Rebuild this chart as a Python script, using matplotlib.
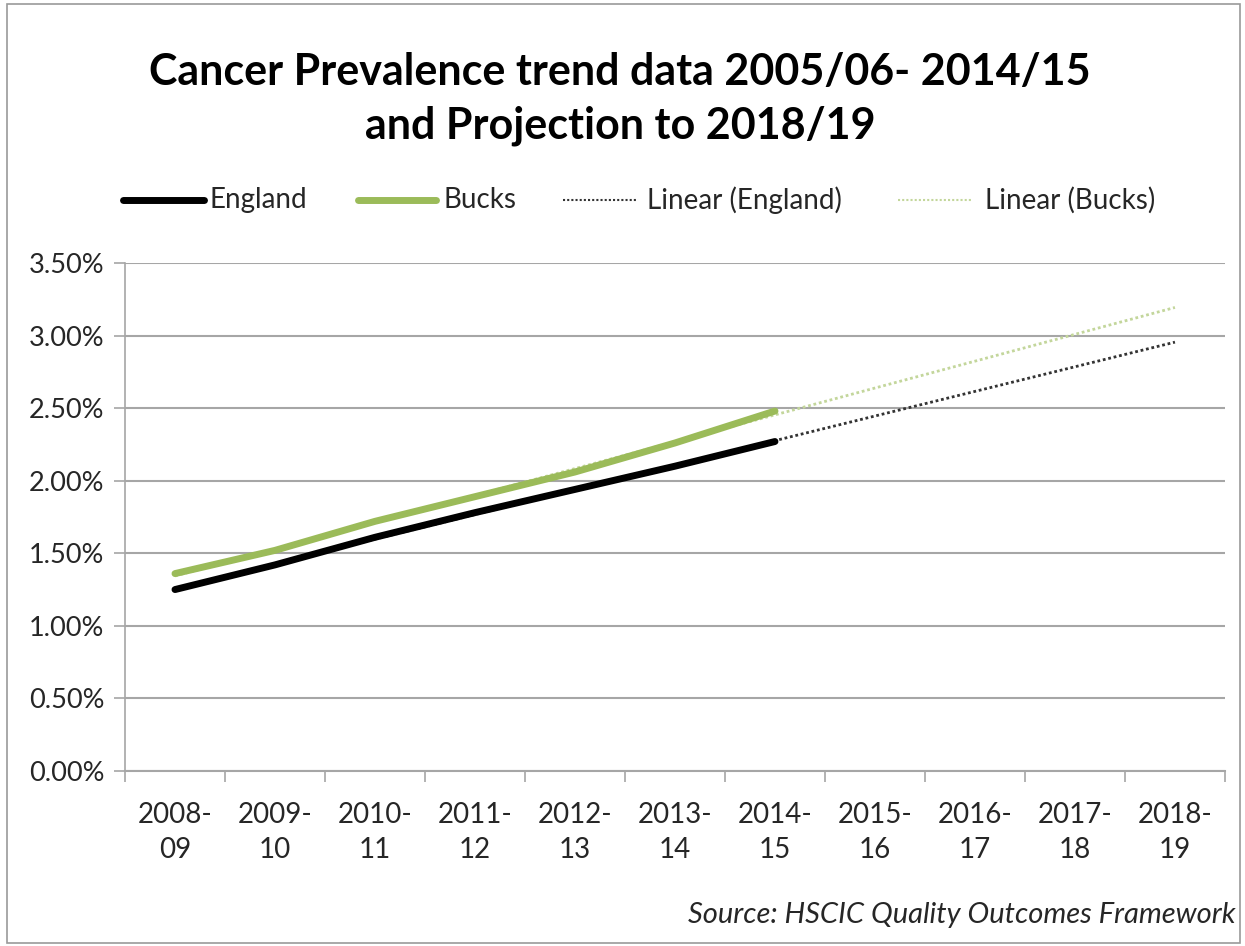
import numpy as np
import matplotlib.pyplot as plt
from matplotlib.ticker import FuncFormatter

plt.rcParams['font.family'] = ['Lato', 'DejaVu Sans']

# Années QOF, données réelles jusqu'à 2014-15 puis projection
annees = ["2008-\n09", "2009-\n10", "2010-\n11", "2011-\n12", "2012-\n13", "2013-\n14",
          "2014-\n15", "2015-\n16", "2016-\n17", "2017-\n18", "2018-\n19"]
england = [1.25, 1.42, 1.61, 1.78, 1.94, 2.10, 2.27]   # prévalence en %
bucks = [1.36, 1.52, 1.72, 1.89, 2.06, 2.26, 2.48]

vert = "#9BBB59"
vert_clair = "#C3D69B"
grille = "#A6A6A6"
texte = "#262626"

fig = plt.figure(figsize=(12.45, 9.46), dpi=100)
ax = fig.add_axes([0.1004, 0.185, 0.8835, 0.537])

x_tout = np.arange(len(annees))
x_obs = np.arange(len(england))

# tendances linéaires (comme Excel) prolongées jusqu'à 2018-19
pe = np.polyfit(x_obs, england, 1)
pb = np.polyfit(x_obs, bucks, 1)
ax.plot(x_tout, np.polyval(pe, x_tout), color="#333333", lw=2, linestyle=(0, (1, 1)), zorder=2)
ax.plot(x_tout, np.polyval(pb, x_tout), color=vert_clair, lw=2, linestyle=(0, (1, 1)), zorder=2)

ax.plot(x_obs, england, color="black", lw=5, solid_capstyle="round", zorder=3)
ax.plot(x_obs, bucks, color=vert, lw=5, solid_capstyle="round", zorder=4)

ax.set_xlim(-0.5, len(annees) - 0.5)
ax.set_ylim(0, 3.5)
ax.set_yticks(np.arange(0, 3.51, 0.5))
ax.yaxis.set_major_formatter(FuncFormatter(lambda v, _: f"{v:.2f}%"))
ax.set_xticks(x_tout)
ax.set_xticklabels(annees, fontsize=20, color=texte, linespacing=1.45)
ax.set_xticks(np.arange(-0.5, len(annees), 1), minor=True)
ax.tick_params(axis="x", which="major", length=0, pad=22)
ax.tick_params(axis="x", which="minor", length=8, color=grille, width=1.2)
ax.tick_params(axis="y", length=8, color=grille, width=1.2, labelsize=19.5, labelcolor=texte, pad=7)

ax.grid(axis="y", color=grille, lw=1.5)
ax.set_axisbelow(True)
for cote in ["top", "right"]:
    ax.spines[cote].set_visible(False)
ax.spines["left"].set_color(grille)
ax.spines["bottom"].set_color(grille)
ax.spines["left"].set_linewidth(1.2)
ax.spines["bottom"].set_linewidth(1.5)

# légende construite à la main pour garder l'espacement
def item(x0, x1, xt, y, libelle, couleur, lw, style):
    fig.add_artist(plt.Line2D([x0 / 1245, x1 / 1245], [1 - y / 946] * 2,
                              color=couleur, lw=lw, linestyle=style, solid_capstyle="round"))
    fig.text(xt / 1245, 1 - y / 946, libelle, fontsize=20, va="center", color=texte)

item(123, 204, 209, 200, "England", "black", 5, "-")
item(358, 436, 444, 200, "Bucks", vert, 5, "-")
item(563, 637, 647, 200, "Linear (England)", "#333333", 1.5, (0, (1, 1)))
item(898, 972, 985, 200, "Linear (Bucks)", vert_clair, 1.5, (0, (1, 1)))

fig.text(620 / 1245, 1 - 99 / 946, "Cancer Prevalence trend data 2005/06- 2014/15\nand Projection to 2018/19",
         ha="center", va="center", fontsize=31, fontweight="bold", linespacing=1.42)
fig.text(1235 / 1245, 1 - 915 / 946, "Source: HSCIC Quality Outcomes Framework",
         ha="right", va="center", fontsize=21, style="italic", color=texte)

fig.add_artist(plt.Rectangle((0.006, 0.003), 0.99, 0.993, transform=fig.transFigure,
                             fill=False, edgecolor="#9A9A9A", lw=1.2))

fig.savefig("out.png", dpi=100)
